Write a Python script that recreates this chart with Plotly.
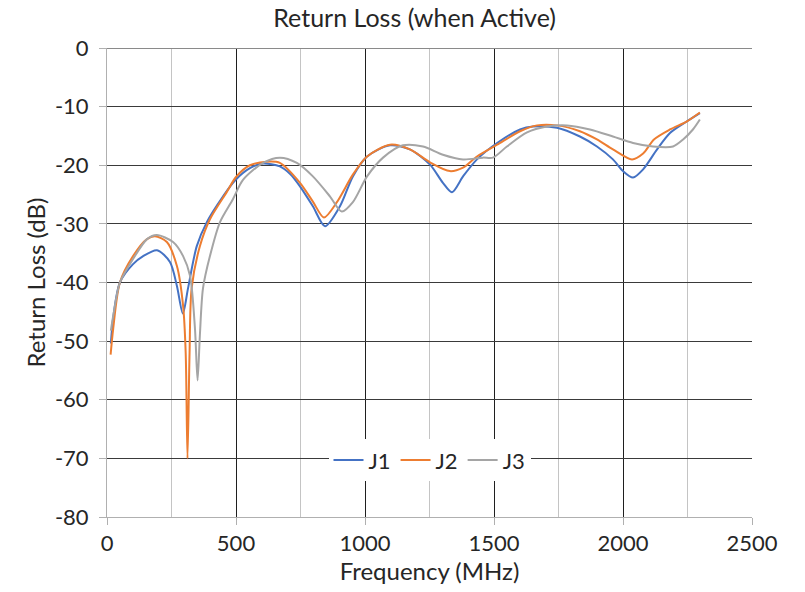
import plotly.graph_objects as go

# Frequency (MHz) and return loss (dB) for each jack
j1_freq = [15, 24, 50, 100, 140, 194, 244, 271, 294, 314, 348, 387, 450, 496, 554, 605, 670, 710,
           748, 798, 845, 903, 953, 1008, 1097, 1174, 1252, 1302, 1337, 1380, 1434, 1512, 1601,
           1651, 1744, 1833, 1899, 1961, 2000, 2039, 2078, 2132, 2182, 2248, 2298]
j1_db = [-50.4, -46.0, -40.0, -36.9, -35.5, -34.5, -36.5, -40.6, -45.3, -41.0, -33.8, -29.7, -25.3,
         -22.6, -20.5, -19.7, -20.2, -21.5, -23.6, -27.0, -30.4, -27.0, -21.9, -18.5, -16.6, -17.3,
         -19.9, -23.0, -24.6, -21.9, -19.0, -16.2, -13.9, -13.4, -13.6, -15.1, -16.8, -19.0, -21.0,
         -22.1, -20.7, -17.3, -14.5, -12.5, -11.1]

j2_freq = [14, 24, 50, 101, 155, 186, 232, 271, 295, 305, 312, 320, 328, 360, 399, 465, 500, 554,
           620, 670, 748, 798, 841, 891, 953, 1008, 1097, 1174, 1252, 1329, 1380, 1434, 1512, 1601,
           1667, 1744, 1833, 1899, 1961, 2035, 2078, 2120, 2182, 2248, 2298]
j2_db = [-52.3, -47.9, -40.0, -35.5, -32.6, -32.1, -33.1, -37.2, -44.0, -52.0, -70.0, -52.0, -41.0,
         -33.8, -29.2, -24.5, -22.0, -20.0, -19.4, -19.6, -23.0, -26.2, -28.9, -26.3, -21.6, -18.5,
         -16.5, -17.3, -19.5, -21.0, -20.4, -18.5, -16.5, -14.2, -13.2, -13.2, -14.2, -15.6, -17.3,
         -19.0, -18.0, -15.6, -13.9, -12.5, -11.0]

j3_freq = [15, 24, 50, 101, 155, 193, 256, 295, 322, 341, 351, 360, 372, 399, 438, 488, 527, 605,
           670, 736, 798, 864, 910, 953, 1008, 1070, 1147, 1225, 1302, 1380, 1457, 1496, 1550, 1628,
           1705, 1783, 1872, 1961, 2039, 2116, 2194, 2233, 2271, 2298]
j3_db = [-48.2, -45.7, -40.0, -36.0, -32.6, -31.9, -33.1, -35.5, -38.9, -47.9, -56.7, -49.0, -41.0,
         -35.5, -29.7, -25.8, -22.5, -19.6, -18.7, -19.6, -21.9, -25.3, -27.9, -26.3, -21.9, -18.7,
         -16.6, -16.8, -18.2, -19.0, -18.7, -18.7, -16.8, -14.4, -13.4, -13.2, -13.9, -15.1, -16.2,
         -16.8, -16.8, -15.6, -13.9, -12.2]

# Axis tick positions and their labels (plain hyphen for negatives)
x_ticks = [0, 500, 1000, 1500, 2000, 2500]
x_labels = ["0", "500", "1000", "1500", "2000", "2500"]
y_ticks = [0, -10, -20, -30, -40, -50, -60, -70, -80]
y_labels = ["0", "-10", "-20", "-30", "-40", "-50", "-60", "-70", "-80"]

series = [
    ("J1", j1_freq, j1_db, "#4472C4"),
    ("J2", j2_freq, j2_db, "#ED7D31"),
    ("J3", j3_freq, j3_db, "#A5A5A5"),
]

FONT = "Lato, 'Open Sans', sans-serif"
TEXT = "#262626"

fig = go.Figure()
for name, f, db, color in series:
    fig.add_trace(go.Scatter(
        x=f, y=db, name=name, mode="lines",
        line=dict(color=color, width=2, shape="spline", smoothing=0.8),
    ))

fig.update_layout(
    width=805, height=592,
    margin=dict(l=107, r=53, t=48, b=73),
    paper_bgcolor="white", plot_bgcolor="white",
    font=dict(family=FONT, size=22, color=TEXT),
    title=dict(text="Return Loss (when Active)", xref="container", x=0.515, xanchor="center",
               y=0.97, yanchor="middle", font=dict(size=25, color=TEXT)),
    showlegend=True,
    legend=dict(orientation="h", x=0.5, xanchor="center", y=0.121, yanchor="middle",
                bgcolor="white", font=dict(size=22, color=TEXT),
                itemwidth=30, tracegroupgap=0),
)

fig.update_xaxes(
    range=[0, 2500], tickvals=x_ticks, ticktext=x_labels,
    showgrid=True, gridcolor="#1f1f1f", gridwidth=1,
    minor=dict(dtick=250, tick0=0, showgrid=True, gridcolor="#c4c4c4", gridwidth=1),
    showline=True, linecolor="#b0b0b0", linewidth=1,
    ticks="outside", ticklen=7, tickcolor="#b0b0b0",
    zeroline=False,
    title=dict(text="Frequency (MHz)", font=dict(size=24, color=TEXT), standoff=7),
)

fig.update_yaxes(
    range=[-80, 0], tickvals=y_ticks, ticktext=y_labels,
    showgrid=True, gridcolor="#3a3a3a", gridwidth=1,
    zeroline=True, zerolinecolor="#8a8a8a", zerolinewidth=1,
    showline=True, linecolor="#b0b0b0", linewidth=1,
    ticks="outside", ticklen=7, tickcolor="#b0b0b0", ticklabelstandoff=6,
    title=dict(text="Return Loss (dB)", font=dict(size=24, color=TEXT), standoff=2),
)

fig.write_html("out.html")
